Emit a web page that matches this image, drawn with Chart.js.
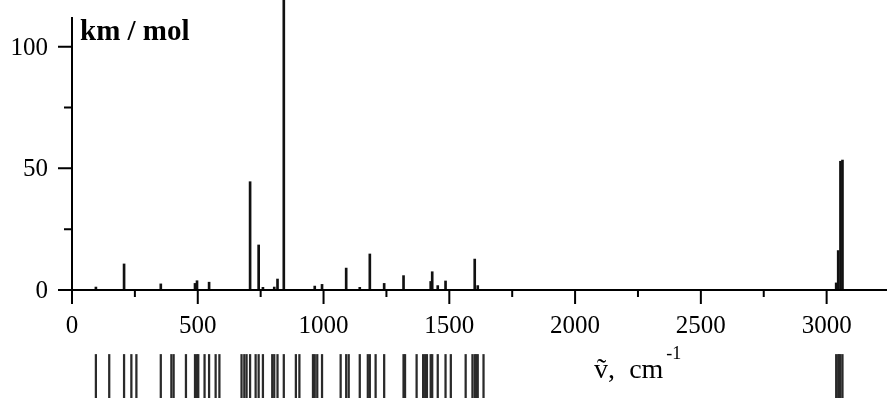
<!DOCTYPE html>
<html>
<head>
<meta charset="utf-8">
<script src="https://cdn.jsdelivr.net/npm/chart.js@4"></script>
<style>
  html, body { margin: 0; padding: 0; background: #fff; }
  #wrap { width: 887px; height: 398px; }
</style>
</head>
<body>
<div id="wrap"><canvas id="chart"></canvas></div>
<script>
// computed vibrational frequencies (cm-1) and IR intensities (km/mol)
const freqs = [95, 148, 207, 236, 256, 353, 395, 404, 453, 489, 497, 502, 527, 545, 571, 586,
  674, 685, 694, 708, 730, 742, 759, 796, 804, 817, 842, 890, 904, 958, 965, 975, 994,
  1068, 1090, 1100, 1144, 1176, 1184, 1207, 1241, 1318, 1324, 1370, 1396, 1404, 1411,
  1426, 1432, 1454, 1485, 1506, 1565, 1592, 1601, 1607, 1613, 1636,
  3038, 3046, 3050, 3055, 3063];
const intensities = [1.2, 0, 10.7, 0, 0, 2.5, 0, 0, 0, 2.7, 3.8, 0, 0, 3.2, 0, 0,
  0, 0, 0, 44.5, 0, 18.5, 1.1, 0, 1.2, 4.5, 130, 0, 0, 0, 1.6, 0, 2.3,
  0, 9.0, 0, 1.1, 0, 14.8, 0, 2.7, 5.9, 0, 0, 0, 0, 0,
  3.5, 7.5, 1.8, 3.7, 0, 0, 0, 12.7, 0, 1.8, 0,
  2.9, 16.2, 0, 52.9, 53.4];
const xTicks = [0, 500, 1000, 1500, 2000, 2500, 3000];
const yTicks = [0, 50, 100];

const X_MAX = 3240;
const Y_MIN = -44.4, Y_MAX = 112.2;
const STRIP = [-26.5, -45];
const FONT = '"Liberation Serif", "Times New Roman", serif';

const sticks = freqs.map((f, i) => ({ x: f, y: intensities[i] }));
const strip = freqs.map(f => ({ x: f, y: STRIP }));

// axis lines, tick marks, tick labels and the two unit labels
const axesPlugin = {
  id: 'axes',
  afterDatasetsDraw(chart) {
    const { ctx, chartArea, scales: { x, y } } = chart;
    const y0 = y.getPixelForValue(0);
    const x0 = x.getPixelForValue(0);
    ctx.save();
    ctx.strokeStyle = '#000';
    ctx.lineWidth = 2;
    ctx.beginPath();
    ctx.moveTo(x0 - 14, y0);
    ctx.lineTo(chartArea.right, y0);
    ctx.moveTo(x0, y0);
    ctx.lineTo(x0, chartArea.top);
    for (let v = 0; v <= X_MAX; v += 250) {
      const px = x.getPixelForValue(v);
      ctx.moveTo(px, y0);
      ctx.lineTo(px, y0 + (v % 500 === 0 ? 14 : 7));
    }
    for (let v = 0; v <= Y_MAX; v += 25) {
      const py = y.getPixelForValue(v);
      ctx.moveTo(x0, py);
      ctx.lineTo(x0 - (v % 50 === 0 ? 14 : 8), py);
    }
    ctx.stroke();

    ctx.fillStyle = '#000';
    ctx.textBaseline = 'alphabetic';
    ctx.font = '25px ' + FONT;
    ctx.textAlign = 'center';
    xTicks.forEach(v => ctx.fillText(String(v), x.getPixelForValue(v), y0 + 43));
    ctx.textAlign = 'right';
    yTicks.forEach(v => ctx.fillText(String(v), x0 - 24, y.getPixelForValue(v) + 8));

    ctx.textAlign = 'left';
    ctx.font = 'bold 29px ' + FONT;
    ctx.fillText('km / mol', x0 + 8, chartArea.top + 23);
    ctx.font = '28px ' + FONT;
    ctx.fillText('ṽ,', x.getPixelForValue(2075), y.getPixelForValue(-36));
    ctx.fillText('cm', x.getPixelForValue(2215), y.getPixelForValue(-36));
    ctx.font = '18px ' + FONT;
    ctx.fillText('-1', x.getPixelForValue(2362), y.getPixelForValue(-28.5));
    ctx.restore();
  }
};

new Chart(document.getElementById('chart'), {
  type: 'bar',
  data: {
    datasets: [
      {
        label: 'IR intensity',
        data: sticks,
        backgroundColor: '#111',
        barThickness: 2,
        clip: false
      },
      {
        label: 'modes',
        data: strip,
        backgroundColor: '#2a2a2a',
        barThickness: 1.6
      }
    ]
  },
  options: {
    responsive: true,
    maintainAspectRatio: false,
    animation: false,
    devicePixelRatio: 1,
    layout: { padding: { top: 17, right: 0, bottom: 0, left: 72 } },
    plugins: {
      legend: { display: false },
      tooltip: { enabled: false }
    },
    datasets: { bar: { grouped: false } },
    scales: {
      x: { type: 'linear', display: false, min: 0, max: X_MAX, offset: false },
      y: { type: 'linear', display: false, min: Y_MIN, max: Y_MAX }
    }
  },
  plugins: [axesPlugin]
});
</script>
</body>
</html>
